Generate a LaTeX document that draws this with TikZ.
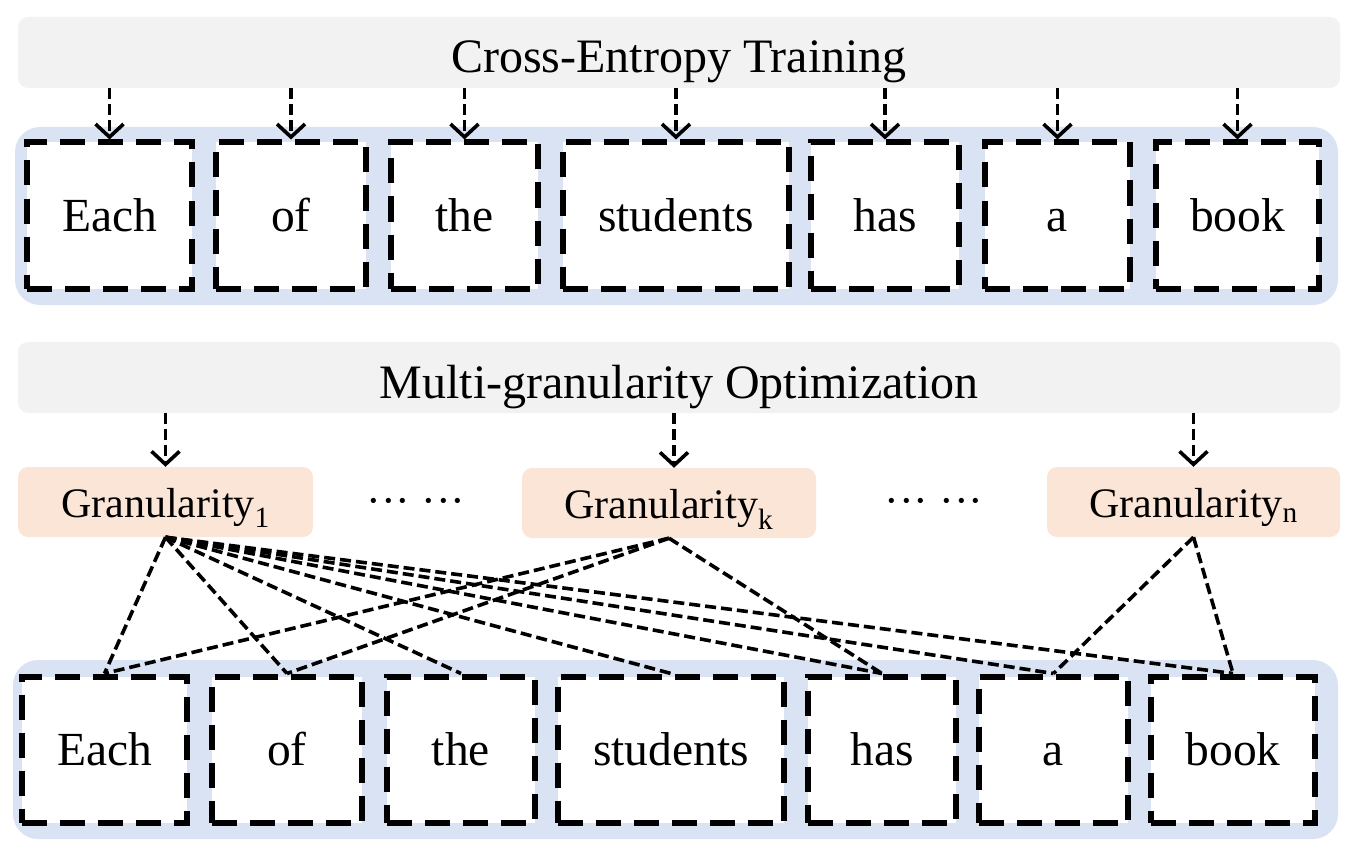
\documentclass[tikz,border=0pt]{standalone}
\usepackage{fontspec}
\setmainfont{Liberation Serif}
\usetikzlibrary{arrows.meta,calc}
\definecolor{bargray}{HTML}{F2F2F2}
\definecolor{bgblue}{HTML}{DAE3F3}
\definecolor{peach}{HTML}{FBE5D6}
\begin{document}
\begin{tikzpicture}[x=1pt,y=-1pt,
  bar/.style={fill=bargray,rounded corners=10pt,draw=none,minimum width=1322pt,minimum height=71pt,
    inner sep=0pt,text height=41pt,text depth=0pt,font=\fontsize{48}{50}\selectfont},
  wordbox/.style={draw=black,fill=white,line width=6pt,dash pattern=on 25pt off 13pt,
    minimum height=146pt,inner sep=0pt,text height=32pt,text depth=0pt,
    font=\fontsize{47.5}{50}\selectfont},
  gran/.style={fill=peach,rounded corners=10pt,draw=none,minimum height=70pt,inner sep=0pt,
    text height=30pt,text depth=0pt,font=\fontsize{42}{44}\selectfont},
  dotsl/.style={font=\fontsize{44}{44}\selectfont,inner sep=0pt},
  arr/.style={line width=3.6pt,dash pattern=on 11pt off 5pt,
    -{Straight Barb[length=13pt,width=28pt,line width=3.6pt]}},
  link/.style={line width=3.6pt,dash pattern=on 11pt off 5pt}]
\useasboundingbox (0,0) rectangle (1350,856);
% ---------- top part ----------
\fill[bgblue,rounded corners=25pt] (15,127) rectangle (1338,305);
\node[bar] (ce) at (679,52.5) {Cross-Entropy Training};
\node[wordbox,minimum width=165pt] (t1) at (109.5,215.5) {Each};
\node[wordbox,minimum width=150pt] (t2) at (291,215.5) {of};
\node[wordbox,minimum width=147pt] (t3) at (464.5,215.5) {the};
\node[wordbox,minimum width=226pt] (t4) at (676,215.5) {students};
\node[wordbox,minimum width=148pt] (t5) at (885,215.5) {has};
\node[wordbox,minimum width=145pt] (t6) at (1057.5,215.5) {a};
\node[wordbox,minimum width=163pt] (t7) at (1237.5,215.5) {book};
\foreach \i in {1,...,7}{
  \draw[arr] (ce.south -| t\i.north) -- (t\i.north);
}
% ---------- bottom part ----------
\node[bar] (mg) at (679,377.5) {Multi-granularity Optimization};
\node[gran,minimum width=295pt] (g1) at (165.5,502) {Granularity\textsubscript{1}};
\node[gran,minimum width=294pt] (gk) at (669,503) {Granularity\textsubscript{k}};
\node[gran,minimum width=293pt] (gn) at (1193.5,502) {Granularity\textsubscript{n}};
\node[dotsl] (d1) at (416,507) {··· ···};
\node[dotsl] (d2) at (934,507) {··· ···};
\coordinate (gkin) at ($(gk.north)+(5,0)$);
\draw[arr] (mg.south -| g1.north) -- (g1.north);
\draw[arr] (mg.south -| gkin) -- (gkin);
\draw[arr] (mg.south -| gn.north) -- (gn.north);
\fill[bgblue,rounded corners=25pt] (13,660) rectangle (1338,839);
\node[wordbox,minimum width=165pt] (b1) at (104.5,749.5) {Each};
\node[wordbox,minimum width=150pt] (b2) at (287,749.5) {of};
\node[wordbox,minimum width=148pt] (b3) at (461,749.5) {the};
\node[wordbox,minimum width=226pt] (b4) at (671,749.5) {students};
\node[wordbox,minimum width=148pt] (b5) at (882,749.5) {has};
\node[wordbox,minimum width=149pt] (b6) at (1053.5,749.5) {a};
\node[wordbox,minimum width=164pt] (b7) at (1233,749.5) {book};
\foreach \i in {1,...,7}{
  \draw[link] (g1.south) -- (b\i.north);
}
\foreach \i in {1,2,5}{
  \draw[link] (gk.south) -- (b\i.north);
}
\foreach \i in {6,7}{
  \draw[link] (gn.south) -- (b\i.north);
}
\end{tikzpicture}
\end{document}
